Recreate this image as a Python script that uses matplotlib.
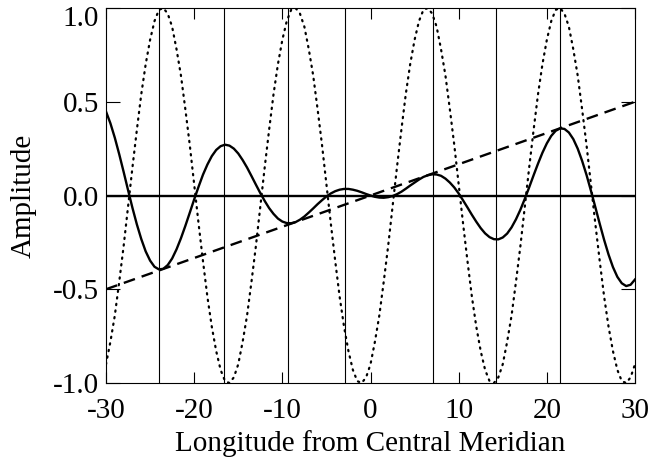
import numpy as np
import matplotlib
matplotlib.use("Agg")
import matplotlib.pyplot as plt
from matplotlib.transforms import ScaledTranslation

# longitude samples (every 0.5 degree)
x = np.linspace(-30, 30, 121)

# dotted curve (oscillation)
dotted = [
    -0.90, -0.78, -0.64, -0.46, -0.27, -0.06, 0.15, 0.35, 0.54, 0.70,
    0.83, 0.93, 0.99, 1.00, 0.97, 0.90, 0.78, 0.64, 0.46, 0.27,
    0.06, -0.15, -0.35, -0.54, -0.70, -0.83, -0.93, -0.99, -1.00, -0.97,
    -0.90, -0.78, -0.64, -0.46, -0.27, -0.06, 0.15, 0.35, 0.54, 0.70,
    0.83, 0.93, 0.99, 1.00, 0.97, 0.90, 0.78, 0.64, 0.46, 0.27,
    0.06, -0.15, -0.35, -0.54, -0.70, -0.83, -0.93, -0.99, -1.00, -0.97,
    -0.90, -0.78, -0.64, -0.46, -0.27, -0.06, 0.15, 0.35, 0.54, 0.70,
    0.83, 0.93, 0.99, 1.00, 0.97, 0.90, 0.78, 0.64, 0.46, 0.27,
    0.06, -0.15, -0.35, -0.54, -0.70, -0.83, -0.93, -0.99, -1.00, -0.97,
    -0.90, -0.78, -0.64, -0.46, -0.27, -0.06, 0.15, 0.35, 0.54, 0.70,
    0.83, 0.93, 0.99, 1.00, 0.97, 0.90, 0.78, 0.64, 0.46, 0.27,
    0.06, -0.15, -0.35, -0.54, -0.70, -0.83, -0.93, -0.99, -1.00, -0.97,
    -0.90,
]

# solid curve (modulated oscillation)
solid = [
    0.448, 0.385, 0.308, 0.220, 0.126, 0.029, -0.066, -0.154, -0.232, -0.298,
    -0.347, -0.380, -0.394, -0.391, -0.371, -0.336, -0.287, -0.228, -0.162, -0.092,
    -0.021, 0.047, 0.111, 0.165, 0.210, 0.243, 0.263, 0.271, 0.266, 0.250,
    0.224, 0.189, 0.149, 0.104, 0.058, 0.013, -0.029, -0.067, -0.098, -0.123,
    -0.139, -0.147, -0.148, -0.142, -0.129, -0.112, -0.091, -0.069, -0.046, -0.025,
    -0.005, 0.011, 0.023, 0.031, 0.035, 0.035, 0.031, 0.025, 0.017, 0.008,
    0.000, -0.007, -0.011, -0.012, -0.009, -0.003, 0.007, 0.020, 0.036, 0.053,
    0.069, 0.085, 0.099, 0.108, 0.113, 0.112, 0.105, 0.090, 0.069, 0.043,
    0.011, -0.026, -0.064, -0.103, -0.140, -0.174, -0.202, -0.222, -0.233, -0.234,
    -0.224, -0.203, -0.170, -0.127, -0.076, -0.018, 0.044, 0.108, 0.170, 0.228,
    0.278, 0.318, 0.345, 0.358, 0.355, 0.336, 0.301, 0.250, 0.185, 0.110,
    0.026, -0.062, -0.151, -0.237, -0.315, -0.382, -0.434, -0.468, -0.483, -0.476,
    -0.448,
]

# dashed straight line end points
dashed_x = [-30, 30]
dashed_y = [-0.5, 0.5]

# vertical marker lines (longitudes)
vlines_x = [-24.0, -16.6, -9.35, -2.9, 7.1, 14.2, 21.5]

xticks = [-30, -20, -10, 0, 10, 20, 30]
xticklabels = ["-30", "-20", "-10", "0", "10", "20", "30"]
yticks = [-1.0, -0.5, 0.0, 0.5, 1.0]
yticklabels = ["-1.0", "-0.5", "0.0", "0.5", "1.0"]

plt.rcParams['font.family'] = ['Liberation Serif', 'DejaVu Serif']

fig = plt.figure(figsize=(6.52, 4.59), dpi=100)
ax = fig.add_axes([106/652, 1 - 383/459, (635-106)/652, (383-8)/459])

for vx in vlines_x:
    ax.axvline(vx, color='black', lw=0.8)
ax.axhline(0.0, color='black', lw=1.7)
ax.plot(x, dotted, color='black', lw=1.6, linestyle=(0, (0.6, 2.4)),
        dash_capstyle='round')
ax.plot(dashed_x, dashed_y, color='black', lw=1.7, linestyle=(0, (5, 3)))
ax.plot(x, solid, color='black', lw=1.7)

ax.set_xlim(-30, 30)
ax.set_ylim(-1.0, 1.0)
ax.set_xticks(xticks)
ax.set_xticklabels(xticklabels)
ax.set_yticks(yticks)
ax.set_yticklabels(yticklabels)
ax.tick_params(axis='both', direction='in', top=True, right=True,
               labelsize=21, width=0.8, color='black')
ax.tick_params(axis='x', length=8, pad=11)
ax.tick_params(axis='y', length=10, pad=5)
for s in ax.spines.values():
    s.set_linewidth(0.8)

# top y label sits a little lower so it stays inside the figure
top_lab = ax.get_yticklabels()[-1]
top_lab.set_transform(top_lab.get_transform() +
                      ScaledTranslation(0, -8/100, fig.dpi_scale_trans))

ax.set_xlabel("Longitude from Central Meridian", fontsize=21, labelpad=4)
ax.set_ylabel("Amplitude", fontsize=21, labelpad=12)

fig.savefig("out.png", dpi=100)
